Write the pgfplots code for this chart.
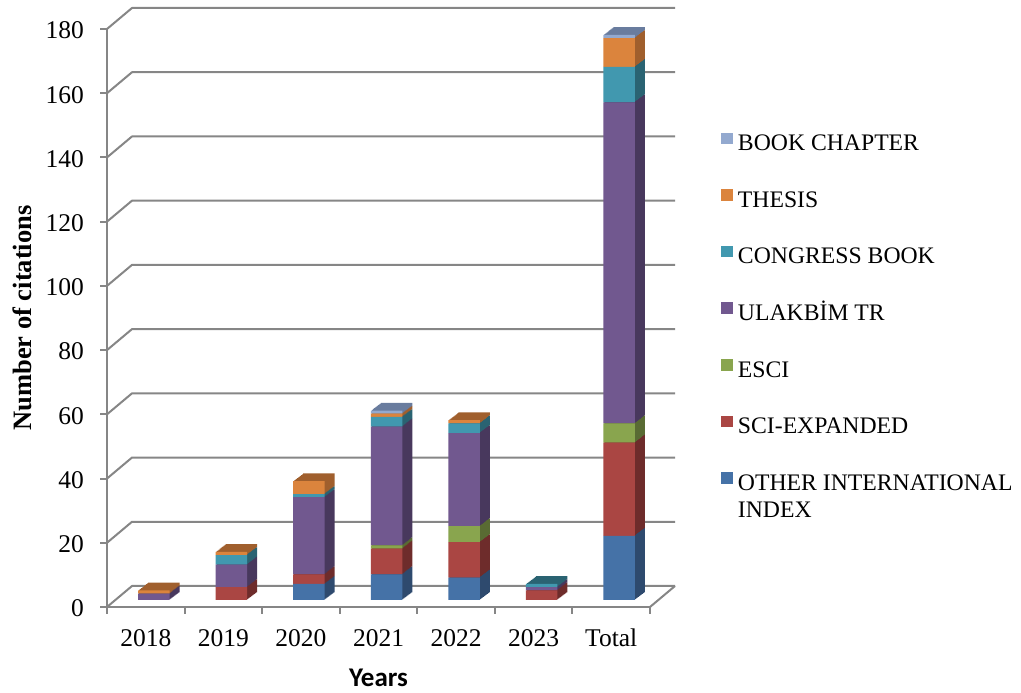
\documentclass[border=0pt]{standalone}
\usepackage{pgfplots}
\pgfplotsset{compat=1.18}
\usepackage{pgfplotstable}
\usepackage{fontspec}
\setmainfont{Liberation Serif}
\newfontfamily\carlito{Carlito}

\definecolor{gridc}{RGB}{134,134,134}
\definecolor{bluef}{RGB}{69,114,167}
\definecolor{redf}{RGB}{170,70,67}
\definecolor{greenf}{RGB}{137,165,78}
\definecolor{purplef}{RGB}{113,88,143}
\definecolor{tealf}{RGB}{65,152,175}
\definecolor{orangef}{RGB}{219,132,61}
\definecolor{bookf}{RGB}{147,169,207}
\definecolor{blues}{RGB}{46,74,110}
\definecolor{reds}{RGB}{110,44,43}
\definecolor{greens}{RGB}{89,107,51}
\definecolor{purples}{RGB}{72,56,93}
\definecolor{teals}{RGB}{42,99,114}
\definecolor{oranges}{RGB}{160,95,45}
\definecolor{books}{RGB}{105,124,158}

% columns: category index, then the seven citation types
\pgfplotstableread{
x other sci esci ulak cong thesis book
0 0 0 0 2 0 1 0
1 0 4 0 7 3 1 0
2 5 3 0 24 1 4 0
3 8 8 1 37 3 1 1
4 7 11 5 29 3 1 0
5 0 3 0 1 1 0 0
6 20 29 6 100 11 9 1
}\citetable

\pgfplotsset{
  base/.style={scale only axis, width=543pt, height=578pt,
    xmin=-0.5, xmax=6.5, ymin=0, ymax=180, anchor=south west, clip=false},
  barsax/.style={base, hide axis, ybar stacked, bar width=31.5pt},
  sq/.style={legend image code/.code={\fill[##1] (0pt,1.5pt) rectangle (12pt,13pt);}},
}

\begin{document}
\begin{tikzpicture}
\useasboundingbox (0,0) rectangle (1021pt,693pt);
% frame: front axis, back wall, ticks and labels
\begin{axis}[base, at={(107pt,86pt)},
  axis lines=left, axis line style={-, line width=2pt, gridc},
  xtick={0,...,6}, xticklabels={2018,2019,2020,2021,2022,2023,Total},
  minor xtick={-0.5,0.5,...,6.5},
  ytick={0,20,...,180},
  tick align=outside, major tick length=7pt, minor tick length=7pt,
  major x tick style={draw=none},
  minor x tick style={line width=2pt, gridc},
  major y tick style={line width=2pt, gridc},
  /pgf/number format/assume math mode=true,
  ticklabel style={font=\fontsize{25.5}{30}\selectfont},
  yticklabel style={anchor=east, inner sep=0pt, xshift=-16pt, yshift=-1.5pt},
  xticklabel style={anchor=base, yshift=-32.7pt},
  ylabel={Number of citations},
  ylabel style={at={(axis description cs:-0.1565,0.5)}, anchor=center,
    font=\fontsize{26.5}{31}\selectfont\bfseries},
  xlabel={Years},
  xlabel style={at={(axis description cs:0.5,-0.1379)}, anchor=base,
    font=\carlito\fontsize{27}{32}\selectfont\bfseries},
]
\pgfplotsinvokeforeach{0,20,...,180}{
  \draw[gridc, line width=2pt, line join=round] (axis cs:-0.5,#1) -- ++(25pt,21pt)
    -- ([shift={(25pt,21pt)}]axis cs:6.5,#1);
}
\draw[gridc, line width=2pt] (axis cs:6.5,0) -- ++(25pt,21pt);
\end{axis}
% depth of the bars: darker copies stepped back
\foreach \s in {10,9,...,1}{
\begin{axis}[barsax, at={(115pt+\s pt,93pt+0.77*\s pt)}]
\addplot[fill=blues, draw=none] table[x=x,y=other]{\citetable};
\addplot[fill=reds, draw=none] table[x=x,y=sci]{\citetable};
\addplot[fill=greens, draw=none] table[x=x,y=esci]{\citetable};
\addplot[fill=purples, draw=none] table[x=x,y=ulak]{\citetable};
\addplot[fill=teals, draw=none] table[x=x,y=cong]{\citetable};
\addplot[fill=oranges, draw=none] table[x=x,y=thesis]{\citetable};
\addplot[fill=books, draw=none] table[x=x,y=book]{\citetable};
\end{axis}
}
% front faces of the bars, with the legend
\begin{axis}[barsax, at={(115pt,93pt)},
  reverse legend, legend cell align=left,
  legend style={at={(1.116,0.8085)}, anchor=north west, draw=none, fill=none,
    inner sep=0pt, outer sep=0pt, row sep=33.6pt, column sep=5pt,
    font=\fontsize{23.7}{28}\selectfont,
    nodes={inner sep=0pt, text height=15pt, text depth=5pt}},
]
\addplot[fill=bluef, draw=none, sq] table[x=x,y=other]{\citetable};
\addlegendentry{\parbox[t]{320pt}{\baselineskip=27.7pt OTHER INTERNATIONAL\\INDEX}}
\addplot[fill=redf, draw=none, sq] table[x=x,y=sci]{\citetable};
\addlegendentry{SCI-EXPANDED}
\addplot[fill=greenf, draw=none, sq] table[x=x,y=esci]{\citetable};
\addlegendentry{ESCI}
\addplot[fill=purplef, draw=none, sq] table[x=x,y=ulak]{\citetable};
\addlegendentry{ULAKBİM TR}
\addplot[fill=tealf, draw=none, sq] table[x=x,y=cong]{\citetable};
\addlegendentry{CONGRESS BOOK}
\addplot[fill=orangef, draw=none, sq] table[x=x,y=thesis]{\citetable};
\addlegendentry{THESIS}
\addplot[fill=bookf, draw=none, sq] table[x=x,y=book]{\citetable};
\addlegendentry{BOOK CHAPTER}
\end{axis}
\end{tikzpicture}
\end{document}
